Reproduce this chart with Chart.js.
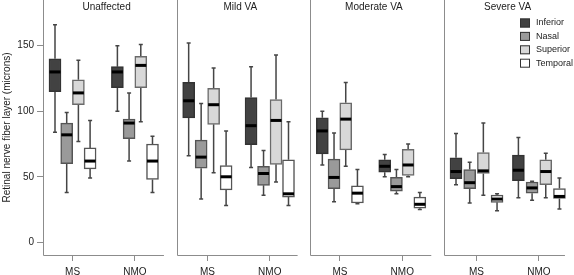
<!DOCTYPE html>
<html><head><meta charset="utf-8">
<script src="https://cdn.jsdelivr.net/npm/chart.js@4/dist/chart.umd.min.js"></script>
<style>html,body{margin:0;padding:0;background:#fff;}canvas{display:block;}</style>
</head><body>
<canvas id="c" width="574" height="275"></canvas>
<script>
// ---------- data ----------
const panels = ["Unaffected", "Mild VA", "Moderate VA", "Severe VA"];
const groups = ["MS", "NMO"];
const regions = ["Inferior", "Nasal", "Superior", "Temporal"];
const yTicks = [0, 50, 100, 150];
const yTitle = "Retinal nerve fiber layer (microns)";
// each entry: [min, q1, median, q3, max]; order: Unaffected MS, Unaffected NMO, Mild MS, Mild NMO, Moderate MS, Moderate NMO, Severe MS, Severe NMO
const inferior = [[84,115,130,140,166],[100,118,130,134,150],[66,95,108,122,152],[57,74.5,89,110.5,134],[59,67.5,85,95,100],[50,53.5,58,63,67],[44,48.5,54,64.5,83],[34,47,55,66.5,80]];
const nasal    = [[38,60,82,91,99],[62,79,91,94,114],[33,56.5,65,78,106],[36,43.5,52.5,58,70],[31,41,49.5,63.5,83.5],[37,39,42.5,49.5,55.5],[30,41,45.5,55.5,61],[32,37.5,41.5,46,46.5]];
const superior = [[77,105,114,124,139],[92,118,135,142,151],[53,90,105,117.5,133],[46,59.5,93,109,143],[58,70.5,94,106.5,122],[50,51,59,71,75],[36,52.5,54.5,68.5,91],[34,44,54,63,68]];
const temporal = [[49,56,62,72,93],[38,48,62,75,81],[28,40,50,58.5,85],[28,34.5,37,63,92],[29.5,30,37.5,43,55.5],[25,26,29,34.5,38],[24,30.5,33,36,37],[25.5,33.5,35,41,49]];
const seriesStats = [inferior, nasal, superior, temporal];

// ---------- styles / layout ----------
const fills = ['#424242', '#9a9a9a', '#d8d8d8', '#ffffff'];
const edges = ['#333333', '#555555', '#6a6a6a', '#555555'];
const frameColor = '#8c8c8c';
const PANEL_STEP = 11.14, PANEL_W = 10.08, GROUP_START = [1, 6.2];
const SLOT = [0.975, 1.04, 0.975, 1.14];   // box spacing within each panel (axis units)
const X_MAX = 43.67, Y_MIN = -9.69, Y_MAX = 184.9;
function boxX(i, r) { const p = Math.floor(i / 2), g = i % 2; return p * PANEL_STEP + GROUP_START[g] + r * SLOT[p]; }
const groupCenters = [];
panels.forEach((_, p) => groups.forEach((_, g) => groupCenters.push(p * PANEL_STEP + GROUP_START[g] + 1.5 * SLOT[p])));

Chart.defaults.font.family = "'Liberation Sans', Arial, sans-serif";
Chart.defaults.font.size = 10;
Chart.defaults.color = '#222';

const datasets = regions.map((name, r) => ({
  label: name,
  data: seriesStats[r].map((s, i) => ({ x: boxX(i, r), y: [s[1], s[3]], stats: s })),
  backgroundColor: fills[r],
  borderColor: edges[r],
  borderWidth: 1.5,
  borderSkipped: false,
  barThickness: 12,
  grouped: false
}));

const boxParts = {
  id: 'boxParts',
  beforeDatasetsDraw(chart) {
    const { ctx, scales: { x, y }, chartArea } = chart;
    ctx.save();
    ctx.strokeStyle = frameColor; ctx.lineWidth = 1;
    const b = Math.round(chartArea.bottom) + 0.5;
    panels.forEach((_, p) => {
      const l = Math.round(x.getPixelForValue(p * PANEL_STEP)) + 0.5;
      const rr = x.getPixelForValue(p * PANEL_STEP + PANEL_W);
      ctx.beginPath(); ctx.moveTo(l, 0); ctx.lineTo(l, b); ctx.lineTo(rr, b); ctx.stroke();
    });
    ctx.strokeStyle = '#454545'; ctx.lineWidth = 1.5;
    chart.data.datasets.forEach(ds => {
      ds.data.forEach(d => {
        const cx = x.getPixelForValue(d.x), s = d.stats;
        [[s[0], s[1]], [s[4], s[3]]].forEach(([end, edge]) => {
          const ye = y.getPixelForValue(end), yb = y.getPixelForValue(edge);
          ctx.beginPath(); ctx.moveTo(cx, yb); ctx.lineTo(cx, ye);
          ctx.moveTo(cx - 2, ye); ctx.lineTo(cx + 2, ye); ctx.stroke();
        });
      });
    });
    ctx.restore();
  },
  afterDatasetsDraw(chart) {
    const { ctx, scales: { y } } = chart;
    ctx.save();
    ctx.strokeStyle = '#000'; ctx.lineWidth = 3;
    chart.data.datasets.forEach((ds, r) => {
      const meta = chart.getDatasetMeta(r);
      ds.data.forEach((d, i) => {
        const el = meta.data[i];
        const ym = y.getPixelForValue(d.stats[2]);
        ctx.beginPath(); ctx.moveTo(el.x - el.width / 2 + 0.5, ym); ctx.lineTo(el.x + el.width / 2 - 0.5, ym); ctx.stroke();
      });
    });
    ctx.restore();
  },
  afterDraw(chart) {
    const { ctx, scales: { x } } = chart;
    ctx.save();
    ctx.fillStyle = '#222'; ctx.textAlign = 'center'; ctx.textBaseline = 'alphabetic';
    ctx.font = "10px 'Liberation Sans', Arial, sans-serif";
    panels.forEach((t, p) => ctx.fillText(t, x.getPixelForValue(p * PANEL_STEP + 5.3), 9.5));
    // legend
    ctx.font = "9px 'Liberation Sans', Arial, sans-serif";
    ctx.textAlign = 'left'; ctx.textBaseline = 'middle';
    chart.data.datasets.forEach((ds, r) => {
      const yy = 23 + r * 13.4;
      ctx.fillStyle = ds.backgroundColor; ctx.fillRect(520, yy - 4.5, 10, 9);
      ctx.strokeStyle = '#333'; ctx.lineWidth = 1; ctx.strokeRect(520.5, yy - 4, 9, 8);
      ctx.fillStyle = '#222'; ctx.fillText(ds.label, 536, yy);
    });
    ctx.restore();
  }
};

new Chart(document.getElementById('c'), {
  type: 'bar',
  data: { datasets },
  plugins: [boxParts],
  options: {
    responsive: false, animation: false, devicePixelRatio: 1,
    layout: { padding: { left: 0, right: 7, top: 0, bottom: 0 } },
    plugins: { legend: { display: false }, tooltip: { enabled: false } },
    scales: {
      x: {
        type: 'linear', min: 0, max: X_MAX, offset: false,
        afterBuildTicks: s => { s.ticks = groupCenters.map(v => ({ value: v })); },
        afterFit: s => { s.height = 20; s.paddingLeft = 0; s.paddingRight = 0; },
        grid: { offset: false, drawOnChartArea: false, drawTicks: true, tickLength: 6, color: frameColor },
        border: { display: false },
        ticks: { autoSkip: false, maxRotation: 0, padding: 5, color: '#222',
          callback: (v, i) => groups[i % 2] }
      },
      y: {
        min: Y_MIN, max: Y_MAX,
        afterBuildTicks: s => { s.ticks = yTicks.map(v => ({ value: v })); },
        afterFit: s => { s.width = 43; s.paddingTop = 0; s.paddingBottom = 0; },
        grid: { drawOnChartArea: false, drawTicks: true, tickLength: 6, color: frameColor },
        border: { display: false },
        ticks: { padding: 3, color: '#222' },
        title: { display: true, text: yTitle, padding: { top: 1, bottom: 0 }, color: '#222' }
      }
    }
  }
});
</script>
</body></html>
